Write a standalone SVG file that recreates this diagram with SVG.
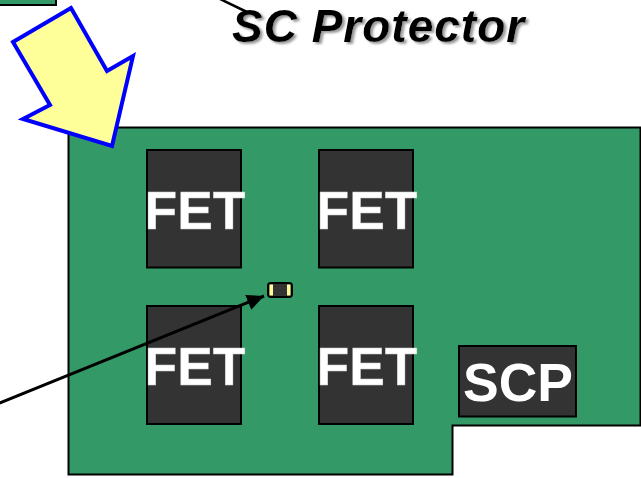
<svg xmlns="http://www.w3.org/2000/svg" width="641" height="478" viewBox="0 0 641 478">
<defs>
<marker id="ah" markerUnits="userSpaceOnUse" markerWidth="20" markerHeight="18" refX="17" refY="8" orient="auto"><path d="M0 0L17 8L0 16Z" fill="#000"/></marker>
<filter id="shadow" x="-5%" y="-20%" width="110%" height="140%"><feDropShadow dx="2.500" dy="2" stdDeviation="0.8" flood-color="#999"/></filter>
</defs>
<style>
.fet{fill:#333;stroke:#000;stroke-width:2}
.lbl{font-family:"Liberation Sans",Arial,sans-serif;font-weight:700;fill:#fff;stroke:#ccc;stroke-width:.4;text-anchor:middle}
.lbl2{font-family:"Liberation Sans",Arial,sans-serif;font-weight:700;fill:#fff;text-anchor:middle}
.title{font-family:"Liberation Sans",Arial,sans-serif;font-weight:700;font-style:italic;font-size:46px;letter-spacing:1px}
</style>
<g id="corner"><rect x="-4" y="-4" width="60" height="9" fill="#339966" stroke="#000" stroke-width="2"/></g>
<g id="board"><path d="M68.500 127.500H640.500V425.500H452.500V474.500H68.500Z" fill="#339966" stroke="#000" stroke-width="2"/></g>
<g id="fet1"><rect class="fet" x="147" y="150" width="94" height="117.500"/><text class="lbl" x="195" y="229" font-size="53.500">FET</text></g>
<g id="fet2"><rect class="fet" x="319" y="150" width="94" height="117.500"/><text class="lbl" x="367" y="229" font-size="53.500">FET</text></g>
<g id="fet3"><rect class="fet" x="147" y="306" width="94" height="118"/><text class="lbl" x="195" y="385" font-size="53.500">FET</text></g>
<g id="fet4"><rect class="fet" x="319" y="306" width="94" height="118"/><text class="lbl" x="367" y="385" font-size="53.500">FET</text></g>
<g id="scp"><rect class="fet" x="459" y="346" width="117" height="70.500"/><text class="lbl2" x="518" y="401" font-size="53.500">SCP</text></g>
<g id="capacitor"><rect x="268" y="283" width="24" height="14" rx="3" fill="#333" stroke="#000" stroke-width="2"/><rect x="269.500" y="284.500" width="3.500" height="11" fill="#ffff99"/><rect x="287" y="284.500" width="3.500" height="11" fill="#ffff99"/></g>
<g id="bigarrow"><path d="M71 8L107 71L133 56L112 146L23 119L50 105L13 42Z" fill="#ffff99" stroke="#0000ff" stroke-width="4"/></g>
<g id="connectors" fill="none" stroke="#000" stroke-width="3">
<path d="M-3 404L264 296" marker-end="url(#ah)"/>
<path d="M218 -2L249 13" stroke-width="2.500"/>
</g>
<g id="title"><text class="title" x="232" y="41.500" fill="#000" filter="url(#shadow)">SC Protector</text></g>
</svg>
